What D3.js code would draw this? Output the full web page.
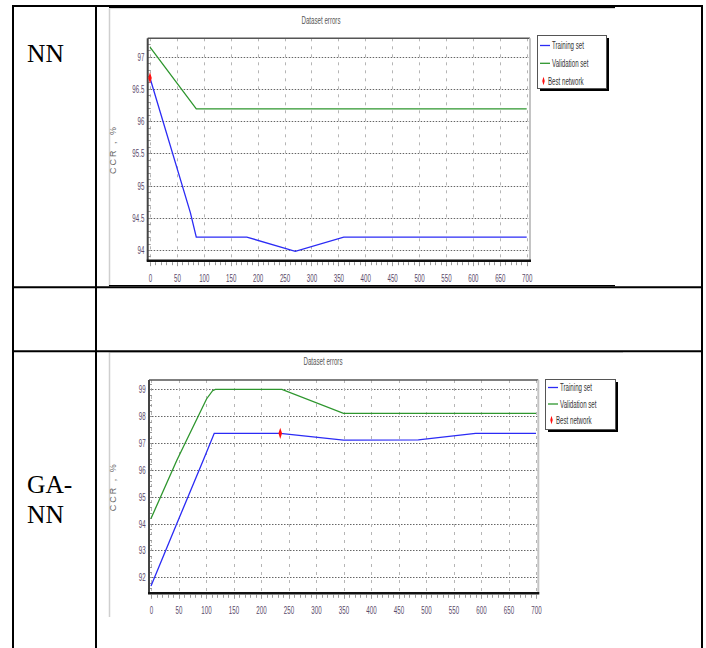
<!DOCTYPE html>
<html><head><meta charset="utf-8">
<script src="https://cdn.jsdelivr.net/npm/d3@7"></script>
<style>body{margin:0;background:#fff}svg{display:block}</style>
</head><body>
<svg id="c" width="706" height="648"></svg>
<script>
// ---------------- data ----------------
const xTicks = [0,50,100,150,200,250,300,350,400,450,500,550,600,650,700];
const rowLabels1 = ["NN"];
const rowLabels2 = ["GA-", "NN"];
const legendLabels = ["Training set", "Validation set", "Best network"];
const chartTitle = "Dataset errors";
const yAxisTitle = "CCR , %";

const nnYTicks = [94, 94.5, 95, 95.5, 96, 96.5, 97];
const nnTrainEpoch = [0, 75, 86, 180, 270, 360, 700];
const nnTrain      = [96.67, 94.58, 94.2, 94.2, 93.98, 94.2, 94.2];
const nnValEpoch   = [0, 86, 700];
const nnVal        = [97.15, 96.19, 96.19];
const nnBestEpoch  = [0];
const nnBest       = [96.67];

const gaYTicks = [92, 93, 94, 95, 96, 97, 98, 99];
const gaTrainEpoch = [0, 47, 95, 115, 235, 350, 486, 590, 700];
const gaTrain      = [91.68, 94.0, 96.36, 97.36, 97.36, 97.11, 97.12, 97.36, 97.36];
const gaValEpoch   = [0, 47, 101, 112, 117, 238, 350, 700];
const gaVal        = [94.19, 96.36, 98.64, 98.95, 99.0, 99.0, 98.1, 98.1];
const gaBestEpoch  = [235];
const gaBest       = [97.36];

// ---------------- drawing ----------------
const svg = d3.select("#c");
const FONT = "'Liberation Sans', Arial, sans-serif";
const SX = 0.56;
const BLUE = "#2b2bf5", GREEN = "#2e962e", RED = "#ff1010";

function drawPanel(p) {
  const g = svg.append("g");
  const x = d3.scaleLinear().domain([0, 700]).range([p.x0, p.x700]);
  const y = d3.scaleLinear().domain([p.yTicks[0], p.yTicks[p.yTicks.length - 1]]).range([p.yLo, p.yHi]);

  // screenshot background
  g.append("rect").attr("x", p.img[0]).attr("y", p.img[1]).attr("width", p.img[2]).attr("height", p.img[3]).attr("fill", "#fff");
  g.append("line").attr("x1", p.img[0] + 0.5).attr("x2", p.img[0] + 0.5).attr("y1", p.img[1]).attr("y2", p.img[1] + p.img[3])
    .attr("stroke", "#cfcfcf").attr("stroke-width", 1.5);
  g.append("line").attr("x1", p.img[0]).attr("x2", p.img[0] + p.img[2]).attr("y1", p.img[1] + 0.5).attr("y2", p.img[1] + 0.5)
    .attr("stroke", "#d8d8d8").attr("stroke-width", 1);

  // title
  g.append("text").attr("transform", `translate(${p.titleX},${p.titleY}) scale(${SX},1)`)
    .attr("text-anchor", "middle").attr("font-family", FONT).attr("font-size", 11).attr("fill", "#555").text(chartTitle);

  // grid
  g.selectAll(".hg").data(p.yTicks).join("line")
    .attr("x1", p.L).attr("x2", p.R).attr("y1", d => Math.round(y(d)) + 0.5).attr("y2", d => Math.round(y(d)) + 0.5)
    .attr("stroke", "#666").attr("stroke-width", 1).attr("stroke-dasharray", "1.5,1.5");
  g.selectAll(".vg").data(xTicks).join("line")
    .attr("x1", d => Math.round(x(d)) + 0.5).attr("x2", d => Math.round(x(d)) + 0.5).attr("y1", p.T).attr("y2", p.B)
    .attr("stroke", "#b5b5b5").attr("stroke-width", 1).attr("stroke-dasharray", "3,5");

  // minor ticks
  g.selectAll(".mx").data(d3.range(0, 701, 10)).join("line")
    .attr("x1", d => Math.round(x(d)) + 0.5).attr("x2", d => Math.round(x(d)) + 0.5)
    .attr("y1", p.B + 1.5).attr("y2", d => p.B + (d % 50 === 0 ? 5.5 : 4.5))
    .attr("stroke", "#999").attr("stroke-width", 1);
  const yMinor = d3.range(Math.ceil(y.invert(p.B) / p.minor) * p.minor, y.invert(p.T), p.minor);
  g.selectAll(".my").data(yMinor).join("line")
    .attr("x1", p.L).attr("x2", p.L + 3).attr("y1", d => Math.round(y(d)) + 0.5).attr("y2", d => Math.round(y(d)) + 0.5)
    .attr("stroke", "#999").attr("stroke-width", 1);

  // axes (labels)
  const xa = g.append("g").attr("transform", `translate(0,${p.B})`)
    .call(d3.axisBottom(x).tickValues(xTicks).tickSize(0).tickPadding(p.xPad).tickFormat(d3.format("d")));
  xa.select(".domain").remove();
  xa.selectAll("text").attr("font-family", FONT).attr("font-size", 11).attr("fill", "#5a4a6a")
    .attr("transform", `scale(${SX},1)`);
  const ya = g.append("g").attr("transform", `translate(${p.L},0)`)
    .call(d3.axisLeft(y).tickValues(p.yTicks).tickSize(0).tickPadding(6).tickFormat(d => String(d)));
  ya.select(".domain").remove();
  ya.selectAll("text").attr("font-family", FONT).attr("font-size", 11).attr("fill", "#5a4a6a")
    .attr("transform", `scale(${SX},1)`);

  // y title
  g.append("text").attr("transform", `translate(116,${(p.T + p.B) / 2}) rotate(-90)`)
    .attr("text-anchor", "middle").attr("font-family", FONT).attr("font-size", 9).attr("letter-spacing", 2)
    .attr("fill", "#666").text(yAxisTitle);

  // frame
  g.append("line").attr("x1", p.L).attr("x2", p.R).attr("y1", p.T).attr("y2", p.T).attr("stroke", "#555").attr("stroke-width", 1.5);
  g.append("line").attr("x1", p.R).attr("x2", p.R).attr("y1", p.T).attr("y2", p.B).attr("stroke", "#c4c4c4").attr("stroke-width", 2);
  g.append("line").attr("x1", p.L).attr("x2", p.L).attr("y1", p.T).attr("y2", p.B).attr("stroke", "#444").attr("stroke-width", 2);
  g.append("line").attr("x1", p.L - 1).attr("x2", p.R + 1).attr("y1", p.B).attr("y2", p.B).attr("stroke", "#111").attr("stroke-width", 2.5);

  // series
  const line = (ep) => d3.line().x((d, i) => x(ep[i])).y(d => y(d));
  g.append("path").attr("d", line(p.valE)(p.val)).attr("fill", "none").attr("stroke", GREEN).attr("stroke-width", 1.3);
  g.append("path").attr("d", line(p.trE)(p.tr)).attr("fill", "none").attr("stroke", BLUE).attr("stroke-width", 1.3);
  const diamond = d3.symbol(d3.symbolDiamond).size(30);
  g.selectAll(".best").data(p.best).join("path")
    .attr("transform", (d, i) => `translate(${x(p.bestE[i])},${y(d)}) scale(0.6,1.1)`)
    .attr("d", diamond()).attr("fill", RED);

  // legend
  const lg = g.append("g").attr("transform", `translate(${p.leg[0]},${p.leg[1]})`);
  lg.append("rect").attr("x", 3).attr("y", 3).attr("width", p.leg[2]).attr("height", p.leg[3]).attr("fill", "#000");
  lg.append("rect").attr("x", 0.5).attr("y", 0.5).attr("width", p.leg[2]).attr("height", p.leg[3])
    .attr("fill", "#fff").attr("stroke", "#555").attr("stroke-width", 1);
  const cols = [BLUE, GREEN, RED];
  legendLabels.forEach((lab, i) => {
    const yy = p.legY[i];
    if (i < 2) {
      lg.append("line").attr("x1", 3).attr("x2", 13).attr("y1", yy).attr("y2", yy).attr("stroke", cols[i]).attr("stroke-width", 1.3);
      lg.append("text").attr("transform", `translate(15,${yy + 3.5}) scale(${SX},1)`).attr("font-family", FONT)
        .attr("font-size", 11).attr("fill", "#333").text(lab);
    } else {
      lg.append("path").attr("transform", `translate(6.5,${yy}) scale(0.5,1)`).attr("d", d3.symbol(d3.symbolDiamond).size(22)())
        .attr("fill", RED);
      lg.append("text").attr("transform", `translate(11,${yy + 3.5}) scale(${SX},1)`).attr("font-family", FONT)
        .attr("font-size", 11).attr("fill", "#333").text(lab);
    }
  });
}

drawPanel({
  img: [109, 8, 506, 278], titleX: 321, titleY: 24,
  x0: 150, x700: 526.7, L: 147.7, R: 530, T: 38.3, B: 260.7,
  yTicks: nnYTicks, yLo: 250, yHi: 56.7, minor: 0.1, xPad: 13,
  trE: nnTrainEpoch, tr: nnTrain, valE: nnValEpoch, val: nnVal, bestE: nnBestEpoch, best: nnBest,
  leg: [537, 35, 69, 53], legY: [10.5, 28.3, 46]
});
drawPanel({
  img: [109, 352, 514, 265], titleX: 323, titleY: 365,
  x0: 151, x700: 536, L: 149, R: 538.3, T: 380, B: 593.3,
  yTicks: gaYTicks, yLo: 577.3, yHi: 389.3, minor: 0.2, xPad: 13,
  trE: gaTrainEpoch, tr: gaTrain, valE: gaValEpoch, val: gaVal, bestE: gaBestEpoch, best: gaBest,
  leg: [545, 379, 70, 50], legY: [8.5, 25, 41]
});

// table
const tbl = svg.append("g").attr("stroke", "#000");
tbl.append("line").attr("x1", 12).attr("x2", 703).attr("y1", 6).attr("y2", 6).attr("stroke-width", 2);
tbl.append("line").attr("x1", 109).attr("x2", 615).attr("y1", 7.5).attr("y2", 7.5).attr("stroke-width", 1.2);
tbl.append("line").attr("x1", 12).attr("x2", 703).attr("y1", 287.3).attr("y2", 287.3).attr("stroke-width", 2);
tbl.append("line").attr("x1", 109).attr("x2", 615).attr("y1", 285.7).attr("y2", 285.7).attr("stroke-width", 1.2);
tbl.append("line").attr("x1", 12).attr("x2", 703).attr("y1", 351.3).attr("y2", 351.3).attr("stroke-width", 2);
tbl.append("line").attr("x1", 13).attr("x2", 13).attr("y1", 5).attr("y2", 648).attr("stroke-width", 2);
tbl.append("line").attr("x1", 96).attr("x2", 96).attr("y1", 5).attr("y2", 648).attr("stroke-width", 2);
tbl.append("line").attr("x1", 702).attr("x2", 702).attr("y1", 5).attr("y2", 648).attr("stroke-width", 2);

// row labels
const serif = "'Liberation Serif', 'Times New Roman', serif";
svg.selectAll(".rl1").data(rowLabels1).join("text").attr("x", 27).attr("y", (d, i) => 62 + i * 30)
  .attr("font-family", serif).attr("font-size", 25.5).attr("fill", "#000").text(d => d);
svg.selectAll(".rl2").data(rowLabels2).join("text").attr("x", 27).attr("y", (d, i) => 493 + i * 30)
  .attr("font-family", serif).attr("font-size", 25.5).attr("fill", "#000").text(d => d);
</script>
</body></html>
